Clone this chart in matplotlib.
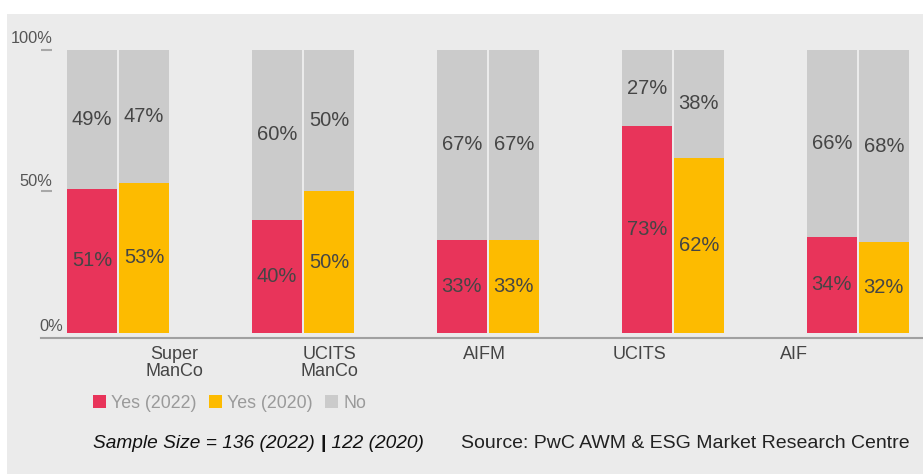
import numpy as np
import matplotlib
matplotlib.use("Agg")
import matplotlib.pyplot as plt
from matplotlib.patches import Rectangle, Patch

plt.rcParams['font.family'] = ['Liberation Sans', 'DejaVu Sans']

# --- dati ---
categorie = ["Super\nManCo", "UCITS\nManCo", "AIFM", "UCITS", "AIF"]
si_2022 = [51, 40, 33, 73, 34]
no_2022 = [49, 60, 67, 27, 66]
si_2020 = [53, 50, 33, 62, 32]
no_2020 = [47, 50, 67, 38, 68]
serie_legenda = ["Yes (2022)", "Yes (2020)", "No"]

# --- stile ---
ROSA = "#E8345A"
GIALLO = "#FDBB00"
GRIGIO = "#CBCBCB"
SFONDO = "#EBEBEB"
TESTO = "#454545"

W, H = 923, 474
fig = plt.figure(figsize=(W / 100, H / 100), dpi=100, facecolor="white")
fig.patches.append(Rectangle((7 / W, 0), 1, 1 - 14 / H, transform=fig.transFigure,
                             facecolor=SFONDO, edgecolor="none", zorder=-10))

ax = fig.add_axes([41 / W, (H - 338) / H, 1 - 41 / W, (338 - 50) / H])
ax.set_facecolor("none")

x = np.arange(len(categorie))
larg = 0.27
off = 0.1405

ax.bar(x - off, si_2022, width=larg, color=ROSA, linewidth=0)
ax.bar(x - off, no_2022, width=larg, bottom=si_2022, color=GRIGIO, linewidth=0)
ax.bar(x + off, si_2020, width=larg, color=GIALLO, linewidth=0)
ax.bar(x + off, no_2020, width=larg, bottom=si_2020, color=GRIGIO, linewidth=0)

# etichette valori
for i in range(len(categorie)):
    for xc, basso, alto in [(x[i] - off, si_2022[i], no_2022[i]),
                            (x[i] + off, si_2020[i], no_2020[i])]:
        ax.text(xc, basso / 2, f"{basso}%", ha="center", va="center",
                fontsize=14.5, color=TESTO)
        ax.text(xc, basso + alto / 2, f"{alto}%", ha="center", va="center",
                fontsize=14.5, color=TESTO)

ax.set_xlim(-0.416, 4.352)
ax.set_ylim(-1.77, 100)

for s in ["top", "right", "left"]:
    ax.spines[s].set_visible(False)
ax.spines["bottom"].set_color("#A0A0A0")
ax.spines["bottom"].set_linewidth(1.5)

# etichette categorie (spaziate diversamente dai gruppi)
pos_etichette = 0.303 + 0.8385 * np.arange(len(categorie))
ax.set_xticks(pos_etichette)
ax.set_xticklabels(categorie, fontsize=13, color=TESTO, linespacing=1.0)
ax.tick_params(axis="x", length=0, pad=6)

ax.set_yticks([50, 100])
ax.set_yticklabels([])
ax.tick_params(axis="y", direction="in", length=8, width=1.5, color="#A8A8A8")

# etichette asse y
trans = ax.get_yaxis_transform()
ax.text(12 / 882, 104, "100%", transform=trans, ha="right", va="center",
        fontsize=11.8, color="#555555", clip_on=False)
ax.text(11 / 882, 53.7, "50%", transform=trans, ha="right", va="center",
        fontsize=11.8, color="#555555", clip_on=False)
ax.text(22 / 882, 2.3, "0%", transform=trans, ha="right", va="center",
        fontsize=11.8, color="#555555", clip_on=False)

# legenda
maniglie = [Patch(facecolor=c, edgecolor="none") for c in (ROSA, GIALLO, GRIGIO)]
leg = fig.legend(maniglie, serie_legenda, loc="center left",
                 bbox_to_anchor=(86 / W, 1 - 403 / H), ncol=3, frameon=False,
                 fontsize=12.8, handlelength=0.72, handleheight=0.72,
                 handletextpad=0.3, columnspacing=0.7, borderaxespad=0)
for t in leg.get_texts():
    t.set_color("#9A9A9A")

# note in basso
fig.canvas.draw()
r = fig.canvas.get_renderer()
t1 = fig.text(93 / W, 1 - 443 / H, "Sample Size = 136 (2022) ", style="italic",
              fontsize=13.8, color="#111111", va="center")
bb = t1.get_window_extent(r)
t2 = fig.text(bb.x1 / W, 1 - 443 / H, "|", fontweight="bold",
              fontsize=13.8, color="#111111", va="center")
bb = t2.get_window_extent(r)
fig.text(bb.x1 / W, 1 - 443 / H, " 122 (2020)", style="italic",
         fontsize=13.8, color="#111111", va="center")

fig.text(910 / W, 1 - 443 / H, "Source: PwC AWM & ESG Market Research Centre",
         ha="right", va="center", fontsize=14, color="#222222")

fig.savefig("out.png", dpi=100, facecolor="white")
